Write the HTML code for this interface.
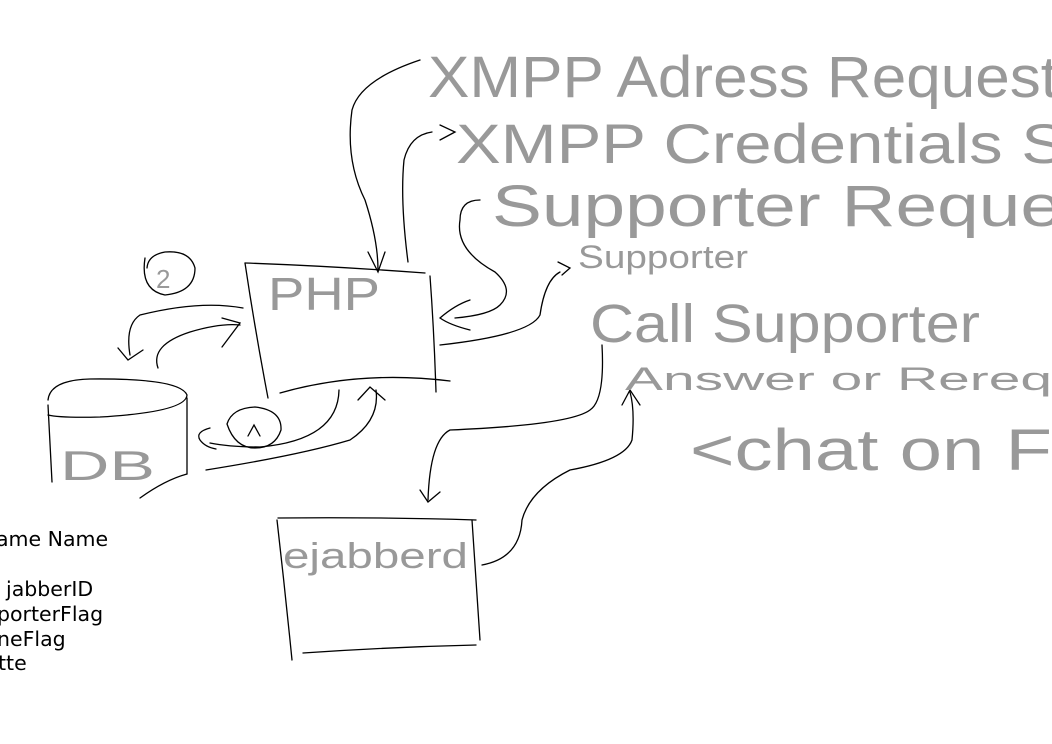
<!DOCTYPE html>
<html><head><meta charset="utf-8"><style>
html,body{margin:0;padding:0;background:#fff;width:1052px;height:744px;overflow:hidden}
svg{position:absolute;left:0;top:0}
.h{font-family:"Liberation Sans",sans-serif;fill:#999;font-weight:normal}
.p{font-family:"DejaVu Sans",sans-serif;font-size:20.5px;fill:#000}
</style></head><body>
<svg width="1052" height="744" viewBox="0 0 1052 744">
<g fill="none" stroke="#000" stroke-width="1.3" stroke-linecap="round">
<path d="M245 263 Q330 266 425 273"/>
<path d="M245 263 Q255 330 268 398"/>
<path d="M430 276 Q434 330 436 392"/>
<path d="M280 393 Q360 370 450 381"/>
<path d="M145 258 Q140 290 165 295 Q195 292 195 268 Q190 250 165 252 Q148 255 147 268"/>
<path d="M243 308 Q200 300 140 315 Q125 325 130 355"/>
<path d="M118 348 L128 360 L143 350"/>
<path d="M158 368 Q150 345 190 332 Q220 323 240 325"/>
<path d="M222 318 L240 323 L222 347"/>
<path d="M48 400 Q50 380 90 379 Q180 378 187 395 Q186 412 100 417 Q60 418 48 415"/>
<path d="M48 405 Q50 445 52 482"/>
<path d="M187 398 L187 474"/>
<path d="M140 498 Q165 480 187 474"/>
<path d="M227 424 Q232 408 255 407 Q282 410 281 430 Q275 448 255 448 Q235 448 227 424"/>
<path d="M248 436 L254 425 L260 436"/>
<path d="M339 390 Q338 440 260 447 Q230 447 210 443"/>
<path d="M210 428 Q195 432 200 440 Q205 447 216 449"/>
<path d="M206 470 Q300 455 350 440 Q380 420 376 390"/>
<path d="M358 400 L370 387 L385 400"/>
<path d="M420 60 Q360 80 352 110 Q345 160 365 200 Q378 240 378 270"/>
<path d="M368 252 L378 272 L385 252"/>
<path d="M408 262 Q400 200 404 160 Q410 135 432 132"/>
<path d="M440 125 L455 132 L440 140"/>
<path d="M480 200 Q460 200 460 220 Q455 250 495 272 Q515 290 500 305 Q490 315 455 318"/>
<path d="M470 300 Q455 305 440 318 Q450 325 470 330"/>
<path d="M440 345 Q530 335 540 315 Q545 280 560 272"/>
<path d="M558 262 L570 268 L562 275"/>
<path d="M278 518 Q380 517 476 520"/>
<path d="M277 520 Q285 590 292 660"/>
<path d="M472 520 Q476 580 480 640"/>
<path d="M303 653 Q390 647 476 645"/>
<path d="M602 345 Q605 400 590 410 Q570 425 450 430 Q430 440 428 500"/>
<path d="M420 490 L428 502 L440 492"/>
<path d="M482 565 Q520 558 522 520 Q530 490 570 470 Q625 460 632 440 Q635 410 630 392"/>
<path d="M622 405 L630 390 L640 405"/>
</g>
<text class="h" x="268" y="310" font-size="46" textLength="112" lengthAdjust="spacingAndGlyphs">PHP</text>
<text class="h" x="156" y="288" font-size="26">2</text>
<text class="h" x="60" y="480" font-size="42" textLength="95" lengthAdjust="spacingAndGlyphs">DB</text>
<text class="h" x="283" y="568" font-size="36" textLength="185" lengthAdjust="spacingAndGlyphs">ejabberd</text>
<text class="h" x="428" y="97" font-size="58" textLength="630" lengthAdjust="spacingAndGlyphs">XMPP Adress Request</text>
<text class="h" x="456" y="163" font-size="56" textLength="610" lengthAdjust="spacingAndGlyphs">XMPP Credentials S</text>
<text class="h" x="492" y="226" font-size="58" textLength="570" lengthAdjust="spacingAndGlyphs">Supporter Reque</text>
<text class="h" x="578" y="268" font-size="32" textLength="170" lengthAdjust="spacingAndGlyphs">Supporter</text>
<text class="h" x="590" y="342" font-size="54" textLength="390" lengthAdjust="spacingAndGlyphs">Call Supporter</text>
<text class="h" x="625" y="390" font-size="32" textLength="427" lengthAdjust="spacingAndGlyphs">Answer or Rereq</text>
<text class="h" x="690" y="470" font-size="58" textLength="362" lengthAdjust="spacingAndGlyphs">&lt;chat on F</text>
<text class="p" x="-4" y="546">ame Name</text>
<text class="p" x="6" y="596">jabberID</text>
<text class="p" x="-3" y="621">porterFlag</text>
<text class="p" x="-3" y="646">neFlag</text>
<text class="p" x="-2" y="670">tte</text>
</svg>
</body></html>
